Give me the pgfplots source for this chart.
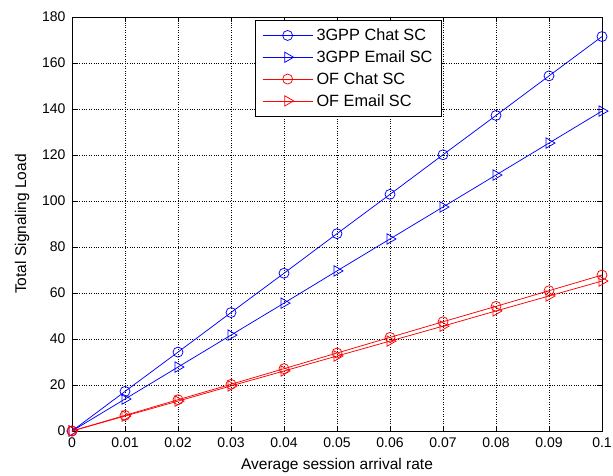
\documentclass[border=0pt]{standalone}
\usepackage{fontspec}
\setmainfont{Liberation Sans}
\usepackage{pgfplots}
\pgfplotsset{compat=1.18}
\begin{document}
\begin{tikzpicture}[x=1pt,y=1pt]
\begin{axis}[
  at={(0,0)}, anchor=south west,
  scale only axis,
  width=530pt, height=414pt,
  xmin=0, xmax=0.1, ymin=0, ymax=180,
  xtick={0,0.01,...,0.1},
  ytick={0,20,...,180},
  scaled x ticks=false,
  xticklabel={\pgfmathprintnumber[fixed,precision=2]{\tick}},
  /pgf/number format/assume math mode=true,
  tick align=inside,
  major tick length=5pt,
  tick style={black, line width=0.6pt},
  axis line style={black, line width=0.8pt},
  grid=major,
  major grid style={black, dotted, line width=0.6pt},
  xlabel={Average session arrival rate},
  ylabel={Total Signaling Load},
  xlabel style={at={(axis description cs:0.5,-0.094)}, anchor=base},
  ylabel style={at={(axis description cs:-0.0943,0.5)}, anchor=center},
  tick label style={font=\fontsize{14}{16}\selectfont},
  xticklabel style={yshift=-3pt},
  yticklabel style={xshift=-3pt},
  label style={font=\fontsize{15.5}{18}\selectfont},
  legend style={at={(0.345,0.993)}, anchor=north west, draw=black, line width=0.8pt,
    font=\fontsize{16.3}{19}\selectfont, row sep=5.5pt,
    inner xsep=7pt, inner ysep=7pt,
    nodes={inner sep=1.5pt},
    /tikz/every odd column/.append style={column sep=2pt}},
  legend cell align=left,
  legend image code/.code={\draw[#1] (0pt,0pt) -- (50pt,0pt); \draw[#1, mark repeat=1] plot coordinates {(25pt,0pt)};},
]
\addplot[blue, line width=0.75pt, mark=o, mark size=5pt, mark options={solid}] coordinates {
(0,0) (0.01,17.2) (0.02,34.3) (0.03,51.5) (0.04,68.6) (0.05,85.8) (0.06,102.9) (0.07,120.1) (0.08,137.2) (0.09,154.4) (0.1,171.5)};
\addlegendentry{3GPP Chat SC}
\addplot[blue, line width=0.75pt, mark=triangle, mark size=6pt, mark options={solid, rotate=-90}] coordinates {
(0,0) (0.01,13.9) (0.02,27.8) (0.03,41.7) (0.04,55.6) (0.05,69.6) (0.06,83.5) (0.07,97.4) (0.08,111.3) (0.09,125.2) (0.1,139.1)};
\addlegendentry{3GPP Email SC}
\addplot[red, line width=0.75pt, mark=o, mark size=5pt, mark options={solid}] coordinates {
(0,0) (0.01,6.8) (0.02,13.6) (0.03,20.3) (0.04,27.1) (0.05,33.9) (0.06,40.7) (0.07,47.5) (0.08,54.2) (0.09,61.0) (0.1,67.8)};
\addlegendentry{OF Chat SC}
\addplot[red, line width=0.75pt, mark=triangle, mark size=6pt, mark options={solid, rotate=-90}] coordinates {
(0,0) (0.01,6.5) (0.02,13.0) (0.03,19.6) (0.04,26.1) (0.05,32.6) (0.06,39.1) (0.07,45.6) (0.08,52.2) (0.09,58.7) (0.1,65.2)};
\addlegendentry{OF Email SC}
\end{axis}
\pgfresetboundingbox
\path (-72pt,-44pt) rectangle (541pt,431pt);
\end{tikzpicture}
\end{document}
